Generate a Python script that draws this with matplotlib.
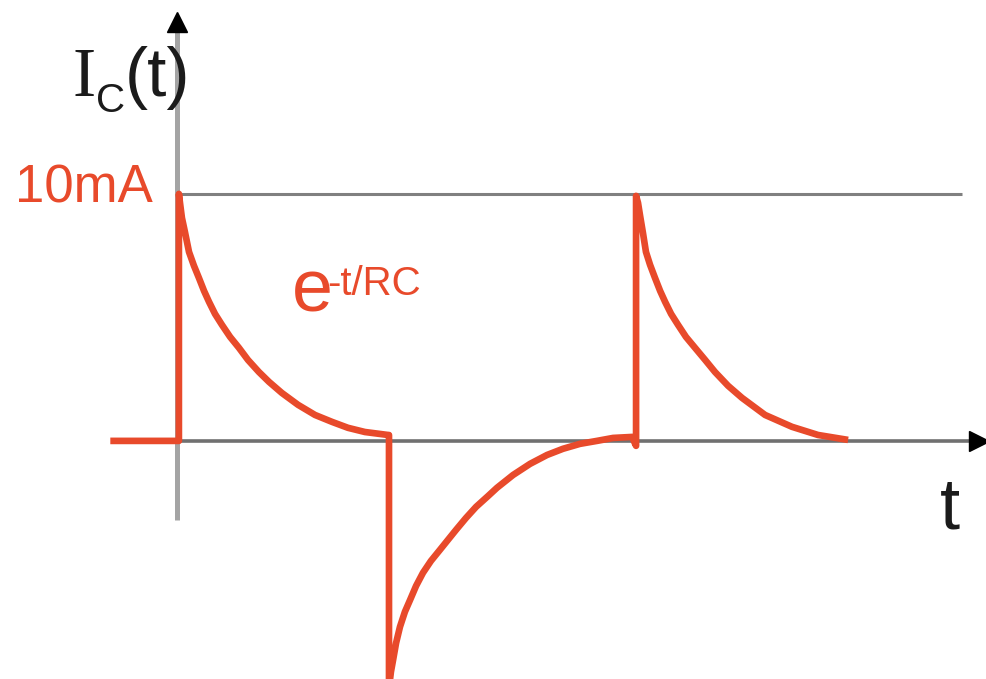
import numpy as np
import matplotlib
matplotlib.use("Agg")
import matplotlib.pyplot as plt

# capacitor current, time in ms, current in mA
lead_t = [-3.1, 0.09]
lead_i = [0.0, 0.0]

charge1_t = [0.09, 0.14, 0.23, 0.37, 0.56, 0.79, 1.02, 1.26, 1.49, 1.77, 2.09, 2.47,
             2.88, 3.30, 3.81, 4.28, 4.88, 5.63, 6.42, 7.21, 7.95, 8.74, 9.81]
charge1_i = [10.0, 9.64, 9.03, 8.46, 7.65, 7.09, 6.60, 6.07, 5.63, 5.14, 4.70, 4.21,
             3.77, 3.28, 2.79, 2.39, 1.94, 1.46, 1.05, 0.77, 0.53, 0.36, 0.24]

discharge_t = [9.86, 9.86, 9.95, 10.05, 10.19, 10.37, 10.60, 10.84, 11.12, 11.44, 11.81,
               12.23, 12.60, 12.98, 13.44, 13.91, 14.47, 14.88, 15.63, 16.42, 17.21,
               17.95, 18.74, 19.53, 20.28, 21.16]
discharge_i = [0.24, -10.0, -9.35, -8.87, -8.18, -7.53, -6.92, -6.44, -5.87, -5.34, -4.86,
               -4.41, -4.01, -3.60, -3.12, -2.67, -2.23, -1.90, -1.38, -0.93, -0.57,
               -0.32, -0.12, 0.0, 0.12, 0.16]

charge2_t = [21.35, 21.35, 21.44, 21.53, 21.67, 21.81, 22.00, 22.23, 22.47, 22.70, 22.98,
             23.30, 23.67, 24.09, 24.56, 25.02, 25.63, 26.28, 27.35, 28.60, 29.81, 31.21]
charge2_i = [-0.2, 9.92, 9.64, 9.15, 8.42, 7.65, 7.13, 6.60, 6.07, 5.63, 5.14,
             4.70, 4.21, 3.77, 3.28, 2.79, 2.23, 1.74, 1.05, 0.57, 0.24, 0.04]

i_max = 10.0
max_label = "10mA"

red = "#e84a2b"
ink = "#1b1b1b"

fig = plt.figure(figsize=(9.87, 6.79), dpi=100)
ax = fig.add_axes([0, 0, 1, 1])
ax.set_xlim(-8.23, 37.67)
ax.set_ylim(-9.64, 17.85)
ax.axis("off")

# axes drawn by hand
ax.plot([0, 0], [-3.2, 16.6], color="#a4a4a4", lw=3.6, solid_capstyle="butt", zorder=1)
ax.plot([0, 37.0], [0, 0], color="#707070", lw=2.6, solid_capstyle="butt", zorder=1)
ax.plot([0, 36.5], [i_max, i_max], color="#808080", lw=2.2, solid_capstyle="butt", zorder=1)
ax.plot([0], [16.95], marker="^", color="black", markersize=15, zorder=3)
ax.plot([37.3], [0], marker=">", color="black", markersize=15, zorder=3)

t_all = lead_t + charge1_t + discharge_t + charge2_t
i_all = lead_i + charge1_i + discharge_i + charge2_i
ax.plot(t_all, i_all, color=red, lw=4.8, solid_joinstyle="round",
        solid_capstyle="butt", zorder=2)

sans = ["Liberation Sans", "DejaVu Sans"]

ax.text(-1.12, 10.2, max_label, color=red, fontsize=38, family=sans,
        ha="right", va="center")
ax.text(5.35, 5.25, "e", color=red, fontsize=53, family=sans,
        ha="left", va="baseline")
ax.text(7.0, 5.9, "-t/RC", color=red, fontsize=29, family=sans,
        ha="left", va="baseline")

# I_C(t) label
ax.text(-4.85, 13.98, "I", color=ink, fontsize=50, family="Liberation Serif",
        ha="left", va="baseline")
ax.text(-3.75, 13.3, "C", color=ink, fontsize=29, family=sans,
        ha="left", va="baseline")
ax.text(-2.42, 13.97, "(t)", color=ink, fontsize=50, family=sans,
        ha="left", va="baseline")
ax.text(35.5, -3.55, "t", color=ink, fontsize=52, family=sans,
        ha="left", va="baseline")

fig.savefig("out.png", dpi=100)
